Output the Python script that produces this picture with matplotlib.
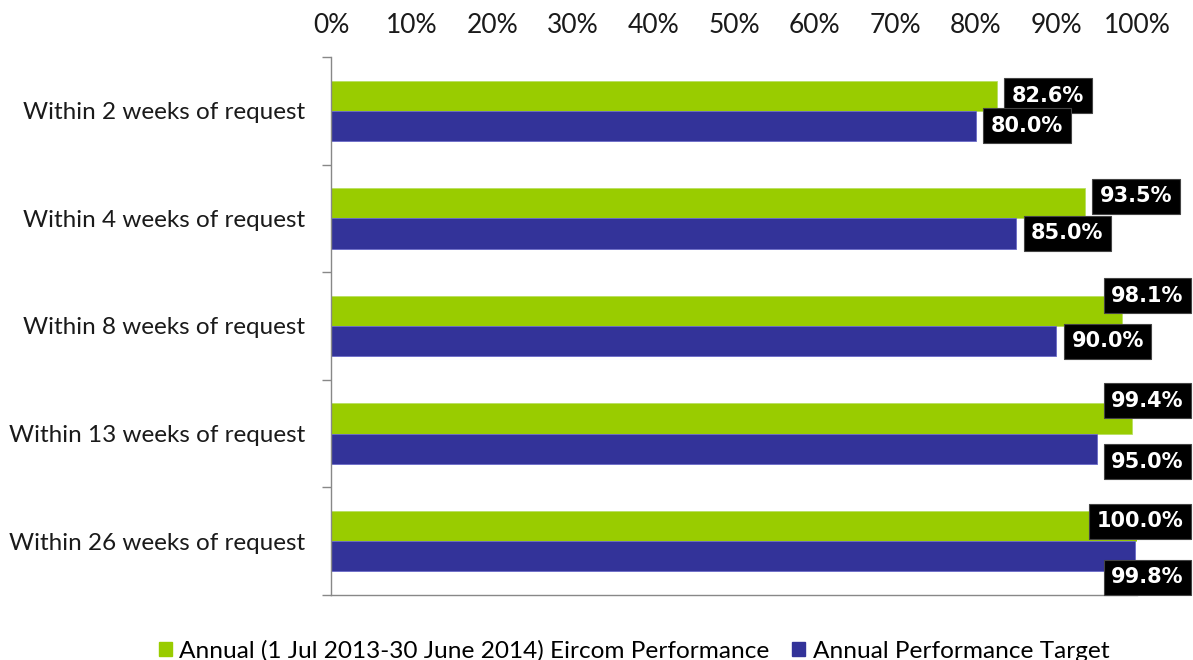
import matplotlib
matplotlib.use("Agg")
import matplotlib.pyplot as plt
from matplotlib.patches import Patch
import numpy as np

categories = ["Within 2 weeks of request", "Within 4 weeks of request",
              "Within 8 weeks of request", "Within 13 weeks of request",
              "Within 26 weeks of request"]
performance = [82.6, 93.5, 98.1, 99.4, 100.0]
target = [80.0, 85.0, 90.0, 95.0, 99.8]
series_names = ["Annual (1 Jul 2013-30 June 2014) Eircom Performance",
                "Annual Performance Target"]
xticks = [0, 10, 20, 30, 40, 50, 60, 70, 80, 90, 100]
xtick_labels = [f"{v}%" for v in xticks]

GREEN = "#99CC00"
BLUE = "#333399"
FONT = "Lato"

W, H, DPI = 1193, 660, 100
fig = plt.figure(figsize=(W / DPI, H / DPI), dpi=DPI)
ax = fig.add_axes([331 / W, 1 - 595 / H, (1137 - 331) / W, (595 - 57) / H])

y = np.arange(len(categories))
h = 0.28
ax.barh(y - h / 2, performance, height=h, color=GREEN, edgecolor="#b8e060", linewidth=0.6)
ax.barh(y + h / 2, target, height=h, color=BLUE, edgecolor="#6a6ac8", linewidth=0.6)

ax.set_xlim(0, 100)
ax.set_ylim(len(categories) - 0.5, -0.5)
ax.set_xticks(xticks)
ax.set_xticklabels(xtick_labels, fontsize=19, family=FONT, color="#1a1a1a")
ax.xaxis.tick_top()
ax.tick_params(axis="x", length=0, pad=13.5)
ax.set_yticks(y)
ax.set_yticklabels(categories, fontsize=17.5, family=FONT, color="#1a1a1a")
ax.set_yticks(np.arange(len(categories) + 1) - 0.5, minor=True)
ax.tick_params(axis="y", which="major", length=0, pad=18.5)
ax.tick_params(axis="y", which="minor", length=6.5, color="#888888", width=1)
for s in ["top", "right"]:
    ax.spines[s].set_visible(False)
ax.spines["left"].set_color("#888888")
ax.spines["bottom"].set_color("#888888")
ax.spines["left"].set_linewidth(1)
ax.spines["bottom"].set_linewidth(1)

# data labels (layout nudges in pixels: positive = down)
nudge_g = [0, -7, -15, -18, -5]
nudge_b = [0, 0, 0, 13, 21]
RIGHT_LIMIT = 1191
bbox_kw = dict(boxstyle="square,pad=0.36", fc="black", ec="#444444", lw=0.8)
fig.canvas.draw()
renderer = fig.canvas.get_renderer()
for vals, ys, nudges in [(performance, y - h / 2, nudge_g), (target, y + h / 2, nudge_b)]:
    for v, yy, nd in zip(vals, ys, nudges):
        t = ax.annotate(f"{v:.1f}%", xy=(v, yy), xytext=(15 * 72 / DPI, -nd * 72 / DPI),
                        textcoords="offset points", ha="left", va="center",
                        fontsize=15, fontweight="bold", color="white",
                        family="DejaVu Sans", bbox=bbox_kw, annotation_clip=False)
        fig.canvas.draw()
        ext = t.get_bbox_patch().get_window_extent(renderer)
        if ext.x1 > RIGHT_LIMIT:
            shift = ext.x1 - RIGHT_LIMIT
            t.set_position((t.xyann[0] - shift * 72 / DPI, t.xyann[1]))

handles = [Patch(color=GREEN), Patch(color=BLUE)]
fig.legend(handles, series_names, loc="center", bbox_to_anchor=(634 / W, 1 - 651 / H),
           ncol=2, frameon=False, prop={"family": FONT, "size": 17.6},
           handlelength=0.55, handleheight=0.55, handletextpad=0.3, columnspacing=0.9)

fig.savefig("out.png", dpi=DPI)
